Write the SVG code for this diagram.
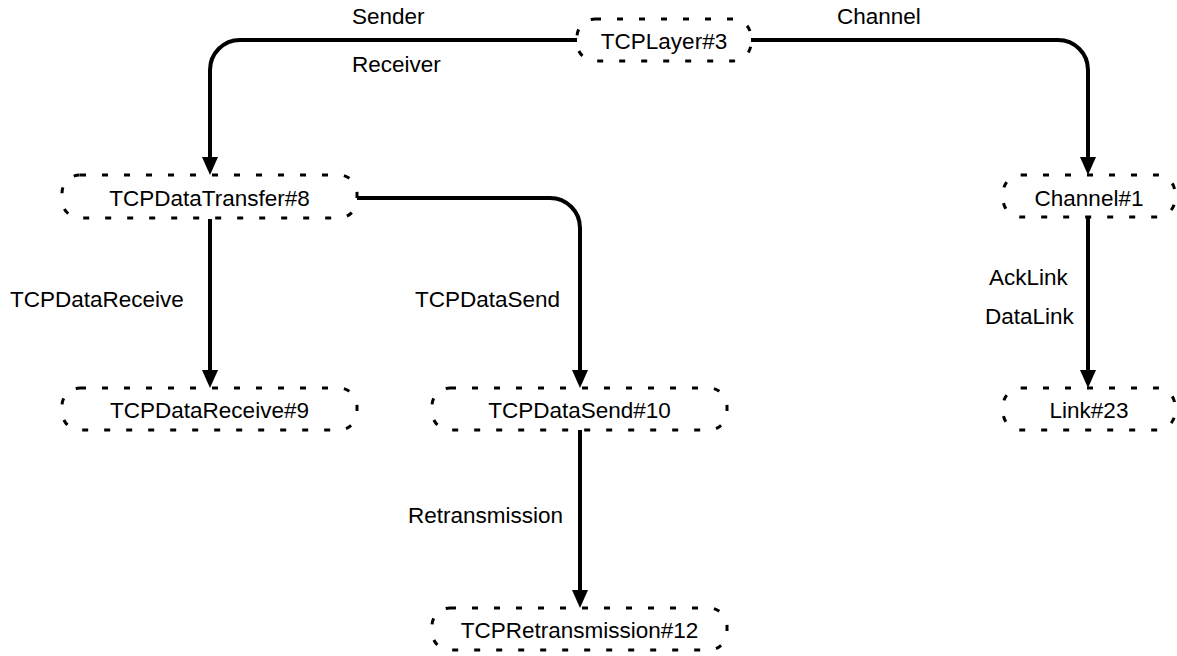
<svg xmlns="http://www.w3.org/2000/svg" width="1177" height="656" viewBox="0 0 1177 656">
  <style>
    .node rect { fill: none; stroke: #000; stroke-width: 3; stroke-dasharray: 6 16; }
    .node text, .label { font-family: "Liberation Sans", Arial, sans-serif; font-size: 22.5px; fill: #000; }
    .node text { text-anchor: middle; }
    .edge { fill: none; stroke: #000; stroke-width: 4; marker-end: url(#arrow); }
  </style>
  <defs>
    <!-- arrowhead: the path stops at the base, the head reaches 18px further -->
    <marker id="arrow" viewBox="0 -8 18 16" refX="0" refY="0" markerWidth="18" markerHeight="16" markerUnits="userSpaceOnUse" orient="auto">
      <path d="M0,-8 L18,0 L0,8 Z" fill="#000"/>
    </marker>
  </defs>

  <g id="connectors">
    <!-- TCPLayer#3 -> TCPDataTransfer#8 -->
    <path d="M577,40 H240 A30,30 0 0 0 210,70 V157" class="edge"/>
    <!-- TCPLayer#3 -> Channel#1 -->
    <path d="M751,40 H1058 A30,30 0 0 1 1088,70 V157" class="edge"/>
    <!-- TCPDataTransfer#8 -> TCPDataSend#10 -->
    <path d="M357,198 H550 A30,30 0 0 1 580,228 V370" class="edge"/>
    <!-- TCPDataTransfer#8 -> TCPDataReceive#9 -->
    <path d="M210,219 V370" class="edge"/>
    <!-- Channel#1 -> Link#23 -->
    <path d="M1088,217 V370" class="edge"/>
    <!-- TCPDataSend#10 -> TCPRetransmission#12 -->
    <path d="M580,430 V590" class="edge"/>
  </g>

  <g id="edge-labels">
    <text class="label" x="352" y="24">Sender</text>
    <text class="label" x="352" y="72">Receiver</text>
    <text class="label" x="837" y="24">Channel</text>
    <text class="label" x="10" y="307">TCPDataReceive</text>
    <text class="label" x="415" y="307">TCPDataSend</text>
    <text class="label" x="989" y="285">AckLink</text>
    <text class="label" x="985" y="324">DataLink</text>
    <text class="label" x="408" y="523">Retransmission</text>
  </g>

  <g id="TCPLayer3" class="node">
    <rect x="577" y="19" width="174" height="42" rx="18"/>
    <text x="664" y="49">TCPLayer#3</text>
  </g>
  <g id="TCPDataTransfer8" class="node">
    <rect x="62" y="175" width="295" height="43" rx="18"/>
    <text x="209.5" y="206">TCPDataTransfer#8</text>
  </g>
  <g id="Channel1" class="node">
    <rect x="1003" y="175" width="172" height="42" rx="18"/>
    <text x="1089" y="206">Channel#1</text>
  </g>
  <g id="TCPDataReceive9" class="node">
    <rect x="62" y="388" width="295" height="42" rx="18"/>
    <text x="209.5" y="418">TCPDataReceive#9</text>
  </g>
  <g id="TCPDataSend10" class="node">
    <rect x="432" y="388" width="295" height="42" rx="18"/>
    <text x="579.5" y="418">TCPDataSend#10</text>
  </g>
  <g id="Link23" class="node">
    <rect x="1003" y="388" width="172" height="42" rx="18"/>
    <text x="1089" y="418">Link#23</text>
  </g>
  <g id="TCPRetransmission12" class="node">
    <rect x="432" y="608" width="295" height="42" rx="18"/>
    <text x="579.5" y="638">TCPRetransmission#12</text>
  </g>
</svg>
